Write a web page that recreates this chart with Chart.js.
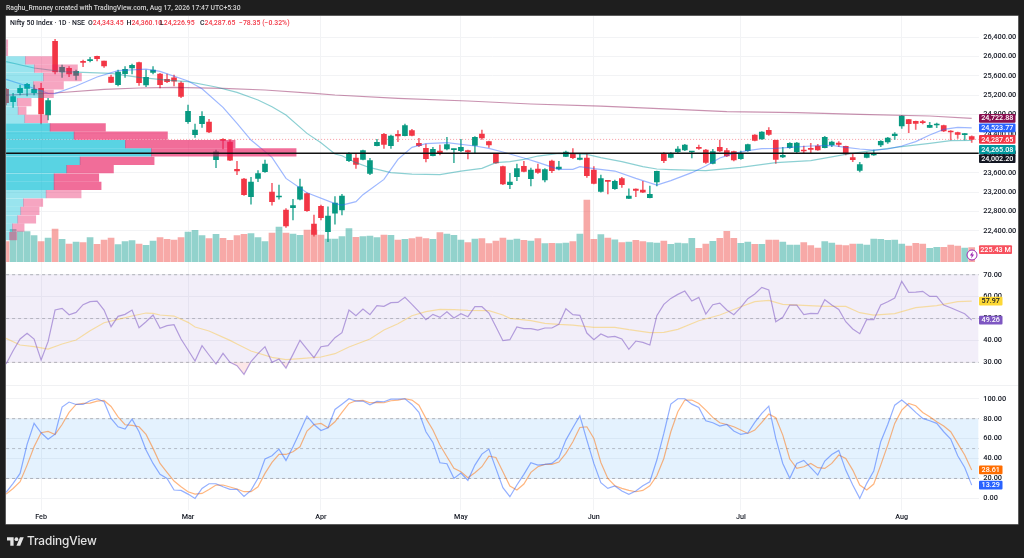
<!DOCTYPE html>
<html><head><meta charset="utf-8">
<style>
html,body{margin:0;padding:0;background:#1e1e1e;width:1024px;height:558px;overflow:hidden;font-family:Roboto,"Liberation Sans",sans-serif}
#pane{position:absolute;left:6px;top:16px;width:1012px;height:508px;background:#fff;box-shadow:0 0 0 .5px #999}
#sep{position:absolute;left:6px;top:385px;width:1012px;height:1px;background:#f0f1f3}
canvas{position:absolute;left:0;top:0;filter:blur(.35px)}
.t{position:absolute;white-space:nowrap;line-height:10px;filter:blur(.2px)}
#head{left:6px;top:3px;color:#d4d4d4;font-size:6.8px;font-weight:500}
.lg{top:18px;font-size:6.9px;color:#f23645;font-weight:500}
#logoT{left:27px;top:533px;line-height:16px;color:#e4e4e4;font-size:11.8px;font-weight:500;font-family:Inter,Roboto,sans-serif;letter-spacing:-.1px}
</style></head><body>
<div id="pane"></div><div id="sep"></div>
<canvas id="c" width="1024" height="558"></canvas>
<div class="t" id="head">Raghu_Rmoney created with TradingView.com, Aug 17, 2026 17:47 UTC+5:30</div>
<div class="t lg" style="left:10px;color:#131722">Nifty 50 Index · 1D · NSE</div>
<div class="t lg" style="left:88px"><span style="color:#131722">O</span>24,343.45</div>
<div class="t lg" style="left:126.5px"><span style="color:#131722">H</span>24,360.10</div>
<div class="t lg" style="left:160px"><span style="color:#131722">L</span>24,226.95</div>
<div class="t lg" style="left:200px"><span style="color:#131722">C</span>24,287.65</div>
<div class="t lg" style="left:239px">−78.35 (−0.32%)</div>
<svg style="position:absolute;left:6.5px;top:537px" width="17" height="9" viewBox="0 0 36 18"><path fill="#e4e4e4" d="M14 18H7V7H0V0h14zM28 18h-8L27.5 0h8z"/><circle fill="#e4e4e4" cx="20" cy="4" r="4"/></svg>
<div class="t" id="logoT">TradingView</div>
<svg style="position:absolute;left:966px;top:249px" width="12" height="12" viewBox="0 0 12 12"><circle cx="6" cy="6" r="5" fill="#fff" stroke="#9c27b0" stroke-width="1"/><path d="M6.8 2.6 3.9 6.5h1.8L5.2 9.4l2.9-3.9H6.3z" fill="#9c27b0"/></svg>
<script src="https://cdn.jsdelivr.net/npm/chart.js@4/dist/chart.umd.min.js"></script>
<script>
const monthTicks = {5:'Feb',26:'Mar',45:'Apr',65:'May',84:'Jun',105:'Jul',128:'Aug'};
const opens = [
25321,25066,25252,25342,25252,25342,24791,26313,25679,25755,
25611,25893,25914,26003,25907,25576,25418,25645,25762,25872,
25411,25673,25638,25528,25562,25452,24653,24385,24612,24646,
23868,24288,24233,23668,23469,23104,23482,23620,23200,23097,
22828,22876,23055,23166,22539,22904,22381,22766,22829,23848,
23903,23876,23586,24158,24392,24158,24392,24364,24468,24206,
24103,23951,24048,24089,24075,24055,24055,24165,24399,24241,
23979,23724,23352,23517,23731,23476,23676,23449,23841,23676,
23938,23999,23876,23903,23655,23214,23435,23269,23476,23070,
23262,23242,23083,23407,23999,23917,24034,24068,24027,24123,
24068,23793,24123,24055,24034,23889,24055,24378,24296,24475,
24268,23924,24117,24034,24068,24096,24151,24117,24172,24213,
24144,23910,23648,23917,23965,24172,24234,24364,24564,24695,
24661,24647,24537,24585,24571,24461,24426,24385,24343.45];
const highs = [
25342,25239,25411,25445,25411,25445,25135,26354,25824,25790,
25721,25927,25982,26010,25907,25617,25721,25790,25845,25886,
25721,25790,25652,25638,25617,25480,24998,24605,24860,24701,
24068,24302,24288,23834,23482,23503,23641,23861,23379,23345,
22856,23049,23469,23186,22725,22932,22897,23104,23152,24013,
23986,24068,23896,24289,24413,24378,24468,24606,24495,24309,
24192,24123,24172,24330,24089,24289,24068,24344,24482,24254,
23999,23738,23586,23779,23834,23696,23779,23683,23862,23834,
24048,24096,23979,23986,23724,23552,23435,23449,23504,23269,
23269,23421,23325,23634,24013,24013,24137,24185,24041,24172,
24082,24082,24275,24103,24048,24048,24192,24385,24447,24530,
24275,24123,24220,24227,24151,24206,24185,24351,24254,24241,
24151,23986,23814,24013,24068,24261,24330,24426,24778,24702,
24668,24681,24640,24626,24585,24468,24440,24413,24360.10];
const lows = [
24998,24949,25204,25184,25204,24605,24688,25638,25569,25583,
25514,25790,25886,25907,25776,25459,25390,25569,25638,25404,
25376,25638,25349,25459,25390,25149,24619,24330,24536,24426,
23703,24089,23847,23558,23131,22952,23414,23606,22931,23055,
22470,22622,23035,22801,22291,22622,22174,22539,22725,23827,
23690,23862,23559,24151,24103,24103,24241,24358,24358,24137,
23820,23944,23965,24068,23807,24034,23882,23999,24289,24123,
23793,23352,23269,23435,23614,23325,23586,23407,23600,23655,
23931,23889,23862,23504,23366,23200,23159,23256,23297,23063,
23104,23187,23077,23325,23807,23903,23999,24055,23903,24082,
23793,23779,24034,23931,23841,23876,24041,24254,24289,24371,
23793,23910,24103,24013,24013,24013,24061,24110,24137,24137,
23965,23827,23614,23903,23958,24137,24206,24289,24516,24426,
24495,24606,24530,24530,24447,24275,24309,24275,24226.95];
const closes = [
25046,25170,25342,25425,25321,24812,25087,25679,25776,25638,
25693,25879,25934,25955,25803,25466,25679,25735,25817,25459,
25569,25721,25418,25480,25493,25177,24867,24481,24763,24440,
24033,24268,23861,23634,23145,23407,23579,23779,23000,23117,
22498,22918,23310,22814,22325,22670,22704,22973,23118,23999,
23772,24055,23848,24227,24185,24358,24358,24571,24371,24158,
23889,24082,23993,24179,24089,24123,24027,24330,24316,24172,
23800,23366,23407,23683,23628,23655,23607,23662,23641,23717,
24027,23910,23903,23538,23380,23476,23421,23421,23352,23118,
23235,23200,23152,23628,23848,23986,24089,24172,24041,24103,
23814,24034,24048,23944,23862,23999,24179,24268,24440,24392,
23876,23958,24206,24213,24048,24082,24068,24330,24234,24185,
23986,23869,23765,23986,23999,24247,24316,24399,24771,24612,
24619,24633,24578,24599,24461,24440,24392,24399,24287.65];
const volumes = [
322,521,483,483,419,322,381,526,360,285,
317,306,387,279,349,381,274,322,338,285,
263,333,387,360,349,387,478,505,419,371,
440,376,344,419,440,451,387,322,462,558,
462,446,424,510,510,430,365,365,403,532,
392,403,413,387,430,424,349,360,371,397,
371,360,467,446,424,349,306,365,371,290,
333,381,349,365,344,333,371,290,295,290,
301,322,446,993,360,435,381,354,306,317,
344,322,306,301,333,279,301,290,376,215,
285,328,376,489,376,295,317,279,279,349,
349,317,269,269,306,258,220,322,301,269,
258,285,285,269,365,360,344,349,285,252,
295,285,215,231,231,269,252,220,225.43];
const rsiValues = [
29.24,35.32,40.65,43.23,40.65,31.06,39.43,53.88,54.64,51.75,
52.81,56.31,57.68,57.98,53.88,46.27,50.99,51.90,53.88,45.82,
48.56,51.60,45.51,46.73,47.19,40.65,35.63,30.61,37.60,33.35,
29.24,34.11,30.00,28.48,24.52,30.30,33.95,37.15,30.00,31.52,
27.41,33.65,40.04,36.08,32.13,37.15,37.60,41.25,43.54,53.88,
51.29,54.33,51.75,55.86,55.55,57.22,57.38,59.66,56.46,53.12,
49.47,51.90,50.53,53.12,50.23,52.21,50.84,55.40,55.40,52.51,
46.27,39.89,40.34,
46.12,45.36,45.36,44.75,45.67,45.67,47.34,54.49,51.75,51.44,
43.38,40.34,42.93,41.56,41.86,40.65,35.93,39.73,39.13,37.91,
51.29,56.46,59.20,61.03,62.55,57.98,59.66,52.05,56.31,57.07,
53.88,51.75,55.10,59.05,61.18,64.22,63.00,48.56,50.53,56.16,
56.16,51.75,52.36,52.21,58.59,56.16,54.18,48.56,45.21,43.08,
49.62,49.47,56.16,57.68,59.35,66.96,61.94,62.09,62.40,60.11,
60.11,56.16,54.94,53.57,52.21,49.26];
const rsiMaBars = [0,2,4,6,8,10,12,14,16,18,20,21,22,24,26,27,29,32,33,35,38,40,42,45,47,49,52,54,56,58,60,62,64,66,69,71,72,73,75,77,79,81,84,87,89,92,94,96,99,102,105,107,109,111,114,117,120,122,124,127,130,133,136,138];
const rsiMaValues = [40.95,37.91,37.15,36.08,38.37,40.19,44.45,48.10,49.62,51.14,52.51,52.36,51.60,51.14,48.25,46.12,44.30,40.04,38.37,35.17,32.28,31.22,31.67,32.43,33.95,37.00,40.65,44.75,47.64,51.29,53.12,54.18,54.03,53.73,53.57,51.60,50.08,49.77,49.01,47.80,47.34,47.03,45.97,45.97,44.90,43.54,43.69,45.06,49.01,51.60,55.40,57.68,58.29,56.46,56.01,55.55,55.55,52.66,51.60,52.21,54.94,55.86,57.68,57.97];
const stochK = [
6.0,15.1,25.1,54.2,75.3,65.9,59.5,64.5,91.6,96.7,
94.3,94.3,98.0,100,97.0,80.3,71.9,69.6,79.6,66.9,
48.5,35.1,24.1,20.1,8.4,8.0,4.3,0,10.0,14.7,
14.7,11.7,9.0,9.0,2.0,8.0,20.1,39.5,42.8,49.5,
38.1,51.8,66.9,82.6,74.2,68.2,70.9,89.3,94.6,100,
97.7,97.7,94.0,97.3,97.0,99.7,99.7,100,94.3,86.3,
66.9,56.2,35.8,34.8,20.1,25.4,18.1,33.4,44.5,49.5,
30.1,10.7,1.7,
13.4,24.1,35.8,33.4,34.1,35.1,40.8,58.5,70.9,82.9,
58.5,35.1,15.7,10.0,12.4,7.4,4.0,7.4,12.7,16.7,
38.5,65.2,94.6,100,100,94.6,91.3,77.9,75.9,72.6,
74.2,67.6,64.2,65.6,76.3,85.3,92.6,60.2,35.1,20.1,
35.1,38.1,30.8,23.4,37.5,44.1,48.2,28.4,13.4,0,
15.1,27.4,56.9,74.2,93.6,98.7,93.0,86.3,80.3,77.9,
75.3,66.9,59.5,42.8,31.1,13.29];
const stochD = [
4.3,10.0,16.7,33.4,51.8,65.9,67.2,64.2,74.2,86.3,
94.3,95.3,95.7,97.7,98.3,92.3,81.9,73.9,73.2,71.9,
64.2,50.2,35.1,26.1,17.4,11.7,6.7,4.3,5.0,9.0,
13.4,13.4,11.4,9.4,6.7,6.7,11.7,25.1,36.1,44.1,
44.1,46.8,51.8,67.6,74.2,75.3,70.9,76.9,86.3,95.3,
98.0,98.3,96.0,96.3,96.0,98.0,98.7,100,98.7,93.6,
80.3,68.6,53.5,41.8,30.1,26.8,20.7,25.8,31.8,42.5,
41.1,26.8,12.4,
8.4,14.4,26.1,31.8,34.1,34.1,36.5,45.2,56.9,71.2,
71.9,60.2,36.1,20.1,12.7,10.0,8.0,6.7,8.0,12.7,
22.7,40.1,66.9,87.0,98.7,98.7,95.3,88.6,81.3,75.9,
74.2,71.9,68.6,65.2,68.6,76.3,84.6,80.9,63.5,39.5,
30.1,31.8,35.1,30.8,30.1,35.1,43.5,40.1,28.4,13.4,
8.4,14.4,33.4,53.5,75.3,88.6,95.3,93.0,86.3,81.9,
76.9,72.6,66.9,55.2,43.5,28.61];
const tealMaBars = [0,4,8,11,15,19,23,26,30,33,36,38,40,43,45,47,48,50,52,55,58,62,65,68,70,72,74,76,79,81,83,85,88,91,93,95,100,105,110,115,120,124,128,132,135,138];
const tealMaValues = [25893,25762,25686,25673,25652,25569,25514,25480,25370,25259,25101,24963,24791,24412,24219,23985,23951,23807,23703,23600,23572,23559,23634,23690,23807,23827,23876,23944,23999,23993,23979,23910,23827,23724,23676,23662,23641,23710,23807,23848,23979,24061,24137,24206,24261,24265.08];
const blueMaBars = [0,3,6,7,10,13,16,20,22,26,28,31,33,35,38,40,43,47,48,50,51,54,56,58,60,63,67,69,71,74,76,79,81,82,84,87,90,93,95,98,100,102,104,106,108,110,112,115,118,120,122,124,126,128,130,132,134,136,138];
const blueMaValues = [25528,25390,25239,25232,25390,25576,25707,25741,25693,25493,25335,24949,24619,24274,23916,23482,23186,22960,22932,23001,23146,23462,23876,24123,24199,24220,24151,24103,24027,23903,23814,23669,23669,23724,23683,23634,23483,23345,23435,23600,23738,23903,23999,24055,24096,24103,24123,24151,24165,24123,24089,24068,24089,24151,24241,24378,24495,24537,24523.77];
const maroonMaBars = [0,7,14,19,24,31,37,44,47,56,66,75,85,95,103,113,122,132,138];
const maroonMaValues = [25204,25246,25321,25349,25363,25342,25308,25239,25205,25136,25081,25019,24977,24915,24860,24840,24805,24771,24722.88];
const profilePrices = [26267,26094,25921,25748,25575,25402,25229,25057,24884,24711,24538,24365,24192,24019,23846,23673,23500,23328,23155,22982,22809,22636,22463,22290];
const profileUp = [0,0,580,850,1120,820,1120,340,360,560,1320,2040,3580,4360,2220,1820,1440,1440,1200,520,440,350,190,100];
const profileDown = [50,50,800,1290,1140,900,300,410,240,690,1660,2800,3290,4340,2220,1400,1340,1410,1050,580,550,540,350,220];
const priceTicks = [22400,22800,23200,23600,24000,24400,24800,25200,25600,26000,26400];
const rsiTicks = [30,40,50,60,70];
const stochTicks = [0,20,40,60,80,100];
const lastPrice = 24287.65;
const levelPrice = 24002.20;

const BARS = opens.length;
const labels = Array.from({length:BARS+1},(_,i)=>monthTicks[i]||'');
const sparse = (bars,vals)=>{const a=new Array(BARS).fill(null);bars.forEach((b,k)=>a[b]=vals[k]);return a;};
const constant = v=>labels.map(()=>v);
const up = closes.map((c,i)=>c>=opens[i]);
const candleColor = up.map(u=>u?'#089981':'#f23645');
const wickColor = up.map(u=>u?'rgba(8,153,129,.75)':'rgba(242,54,69,.75)');
const volColor = up.map(u=>u?'rgba(38,166,154,.5)':'rgba(239,83,80,.5)');
const strong = (i)=>i>=10&&i<=17;
const fmt = v=>Number(v).toLocaleString('en-US',{minimumFractionDigits:2,maximumFractionDigits:2});

const line = (o)=>Object.assign({type:'line',pointRadius:0,borderWidth:1.2,tension:0,spanGaps:true,fill:false},o);
const bar = (o)=>Object.assign({type:'bar',grouped:false,borderWidth:0,xAxisID:'x'},o);

const yAxis = (min,max,ticks,show)=>({
  type:'linear',position:'right',min,max,offset:false,beginAtZero:false,display:show!==false,
  grid:{color:'#f2f3f5',lineWidth:1,drawTicks:false,offset:false},border:{display:false},
  ticks:{autoSkip:false,padding:4.5,color:'#131722',font:{family:'Roboto',size:7.4,weight:'500'},align:'center',crossAlign:'near',callback:v=>fmt(v)},
  afterBuildTicks:s=>{s.ticks=(ticks||[]).map(value=>({value}));},
  afterFit:s=>{s.width=0;}
});

const pills = [
 {s:'y',v:24722.88,t:'24,722.88',bg:'#880e4f',fg:'#fff',dy:0,w:36.5},
 {s:'y',v:24523.77,t:'24,523.77',bg:'#2962ff',fg:'#fff',dy:0,w:36.5},
 {s:'y',v:24265.08,t:'24,265.08',bg:'#00979d',fg:'#fff',dy:9,w:36.5},
 {s:'y',v:levelPrice,t:'24,002.20',bg:'#131722',fg:'#fff',dy:5.5,w:36.5},
 {s:'y',v:lastPrice,t:'24,287.65',bg:'#f23645',fg:'#fff',dy:0,w:36.5},
 {s:'yVol',v:225.43,t:'225.43 M',bg:'#f7525f',fg:'#fff',dy:2,w:33},
 {s:'yRsi',v:57.97,t:'57.97',bg:'#fdd835',fg:'#131722',dy:0,w:23.5},
 {s:'yRsi',v:49.26,t:'49.26',bg:'#7e57c2',fg:'#fff',dy:0,w:23.5},
 {s:'yStoch',v:28.61,t:'28.61',bg:'#ff6d00',fg:'#fff',dy:0,w:23.5},
 {s:'yStoch',v:13.29,t:'13.29',bg:'#2962ff',fg:'#fff',dy:0,w:23.5}
];
const pillPlugin = {id:'pills',
 afterLayout(chart){
  ['y','yVol','yRsi','yStoch'].forEach(id=>{const s=chart.scales[id];s.left=chart.chartArea.right;s.right=chart.width;s.width=s.right-s.left;});
 },
 afterDraw(chart){
  const c=chart.ctx;c.save();c.textAlign='center';c.textBaseline='middle';c.font='500 7.2px Roboto';
  pills.forEach(p=>{
    const y=chart.scales[p.s].getPixelForValue(p.v)+p.dy;
    c.fillStyle=p.bg;c.beginPath();c.roundRect(979,y-4.4,p.w,8.8,1);c.fill();
    c.fillStyle=p.fg;c.fillText(p.t,979+p.w/2,y+.3);
  });
  c.restore();
}};

new Chart(document.getElementById('c'),{
  type:'bar',
  data:{labels,datasets:[
    line({yAxisID:'yRsi',order:100,data:constant(70),borderWidth:1,borderColor:'rgba(120,123,134,.55)',borderDash:[3,3],fill:{value:30},backgroundColor:'rgba(126,87,194,.1)'}),
    line({yAxisID:'yRsi',order:99,data:constant(50),borderWidth:1,borderColor:'rgba(120,123,134,.45)',borderDash:[3,3]}),
    line({yAxisID:'yRsi',order:98,data:constant(30),borderWidth:1,borderColor:'rgba(120,123,134,.55)',borderDash:[3,3]}),
    line({yAxisID:'yStoch',order:100,data:constant(80),borderWidth:1,borderColor:'rgba(120,123,134,.55)',borderDash:[3,3],fill:{value:20},backgroundColor:'rgba(33,150,243,.12)'}),
    line({yAxisID:'yStoch',order:99,data:constant(50),borderWidth:1,borderColor:'rgba(120,123,134,.45)',borderDash:[3,3]}),
    line({yAxisID:'yStoch',order:98,data:constant(20),borderWidth:1,borderColor:'rgba(120,123,134,.55)',borderDash:[3,3]}),
    bar({yAxisID:'yVol',order:90,data:volumes,backgroundColor:volColor,barThickness:6}),
    line({yAxisID:'y',order:85,data:constant(lastPrice),borderWidth:1,borderColor:'rgba(242,54,69,.5)',borderDash:[1,2]}),
    bar({yAxisID:'y',order:60,data:lows.map((l,i)=>[l,highs[i]]),backgroundColor:wickColor,barThickness:1}),
    bar({yAxisID:'y',order:55,data:opens.map((o,i)=>[Math.min(o,closes[i]),Math.max(o,closes[i])]),backgroundColor:candleColor,barThickness:5,minBarLength:1}),
    line({yAxisID:'y',order:50,data:sparse(maroonMaBars,maroonMaValues),borderColor:'rgba(136,14,79,.45)'}),
    line({yAxisID:'y',order:49,data:sparse(tealMaBars,tealMaValues),borderColor:'rgba(0,151,157,.45)'}),
    line({yAxisID:'y',order:48,data:sparse(blueMaBars,blueMaValues),borderColor:'rgba(41,98,255,.45)'}),
    bar({indexAxis:'y',xAxisID:'xP',yAxisID:'y',order:40,barThickness:7.6,
      data:profilePrices.map((p,i)=>({y:p,x:[0,profileUp[i]]})),
      backgroundColor:profilePrices.map((p,i)=>strong(i)?'rgba(0,188,212,.65)':'rgba(0,188,212,.4)')}),
    bar({indexAxis:'y',xAxisID:'xP',yAxisID:'y',order:39,barThickness:7.6,
      data:profilePrices.map((p,i)=>({y:p,x:[profileUp[i],profileUp[i]+profileDown[i]]})),
      backgroundColor:profilePrices.map((p,i)=>strong(i)?'rgba(233,30,99,.65)':'rgba(233,30,99,.4)')}),
    line({yAxisID:'y',order:20,data:constant(levelPrice),borderColor:'#111',borderWidth:1.5}),
    line({yAxisID:'yRsi',order:12,data:sparse(rsiMaBars,rsiMaValues),borderColor:'rgba(251,192,45,.42)'}),
    line({yAxisID:'yRsi',order:11,data:rsiValues,borderColor:'rgba(126,87,194,.55)',fill:{target:{value:30},above:'transparent',below:'rgba(242,54,69,.12)'}}),
    line({yAxisID:'yStoch',order:12,data:stochD,borderColor:'rgba(255,109,0,.5)'}),
    line({yAxisID:'yStoch',order:11,data:stochK,borderColor:'rgba(41,98,255,.5)'})
  ]},
  options:{
    responsive:false,animation:false,devicePixelRatio:1,
    layout:{padding:{left:6.1,right:45.3,top:16,bottom:34}},
    plugins:{legend:{display:false},tooltip:{enabled:false}},
    events:[],
    scales:{
      x:{type:'category',offset:false,position:'bottom',
        grid:{offset:false,color:'#f2f3f5',drawTicks:false},border:{display:false},
        ticks:{autoSkip:false,maxRotation:0,padding:3,color:'#131722',font:{family:'Roboto',size:7.2,weight:'500'}},
        afterBuildTicks:s=>{s.ticks=s.ticks.filter(t=>monthTicks[t.value]);},
        afterFit:s=>{s.height=14;}},
      xP:{type:'linear',axis:'x',display:false,min:0,max:29178,offset:false,beginAtZero:false,grid:{offset:false}},
      y:yAxis(16632,26836.7,priceTicks),
      yVol:yAxis(-3998,3956,[],false),
      yRsi:yAxis(-37.4,188.1,rsiTicks),
      yStoch:yAxis(-11.65,484.2,stochTicks)
    }
  },
  plugins:[pillPlugin]
});
</script>
</body></html>
